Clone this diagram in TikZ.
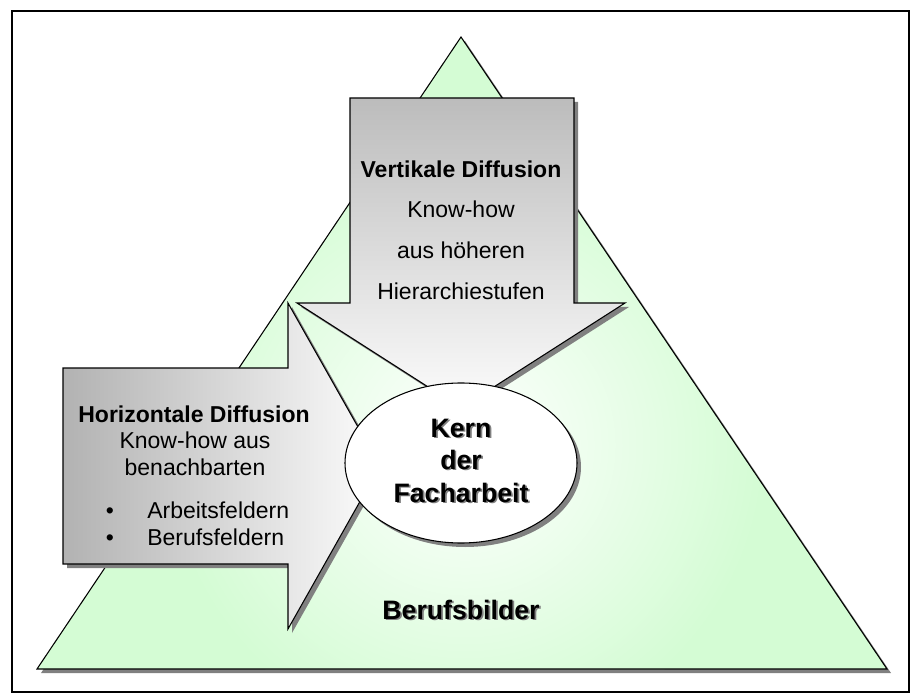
\documentclass[tikz,border=0pt]{standalone}
\usepackage{fontspec}
\setmainfont{Liberation Sans}
\usetikzlibrary{shapes.geometric,shadows}
\definecolor{trigreen}{RGB}{212,252,212}
\definecolor{shadowgray}{RGB}{128,128,128}
\definecolor{arrowdark}{RGB}{188,188,188}
\definecolor{arrowdarkb}{RGB}{178,178,178}
\definecolor{arrowlight}{RGB}{252,252,252}
\newcommand{\shtxt}[1]{\makebox[0pt][l]{\hspace{1.3pt}\raisebox{-1.3pt}{\textcolor{shadowgray}{#1}}}#1}

\begin{document}
\begin{tikzpicture}[x=0.75pt,y=-0.75pt,
  outline/.style={draw=black, line width=0.8pt, line join=miter},
  mysh/.style={drop shadow={shadow xshift=3pt, shadow yshift=-3pt, opacity=1, fill=shadowgray}},
  headtxt/.style={font=\fontsize{17.25}{20}\selectfont\bfseries, anchor=base, inner sep=0pt},
  bodytxt/.style={font=\fontsize{17.25}{20}\selectfont, anchor=base, inner sep=0pt},
  bigtxt/.style={font=\fontsize{20}{24}\selectfont\bfseries, anchor=base, inner sep=0pt}
]
\useasboundingbox (0,0) rectangle (914,695);
\draw[line width=1.5pt] (12,11) rectangle (909,692);

% triangle
\fill[trigreen, mysh] (461,37) -- (887,669) -- (37,669) -- cycle;
\begin{scope}
 \clip (461,37) -- (887,669) -- (37,669) -- cycle;
 \shade[inner color=white, outer color=trigreen] (465,445) circle (225pt);
\end{scope}
\draw[outline] (461,37) -- (887,669) -- (37,669) -- cycle;

% vertical arrow
\shadedraw[outline, mysh, top color=arrowdark, bottom color=arrowlight]
  (350,98) -- (574,98) -- (574,303) -- (625,303) -- (461,408) -- (297,303) -- (350,303) -- cycle;

% horizontal arrow
\shadedraw[outline, mysh, left color=arrowdarkb, right color=arrowlight]
  (63,368) -- (288,368) -- (288,303) -- (380,466) -- (288,629) -- (288,564) -- (63,564) -- cycle;

% core ellipse
\node[ellipse, draw, line width=0.8pt, fill=white, mysh, minimum width=174pt, minimum height=120pt, inner sep=0pt] (kern) at (461,463) {};

\node[headtxt] (vt1) at (461,178) {Vertikale Diffusion};
\node[bodytxt] (vt2) at (461,218) {Know-how};
\node[bodytxt] (vt3) at (461,259) {aus höheren};
\node[bodytxt] (vt4) at (461,300) {Hierarchiestufen};

\node[headtxt] (ht1) at (194,422) {Horizontale Diffusion};
\node[bodytxt] (ht2) at (195,448) {Know-how aus};
\node[bodytxt] (ht3) at (195,475) {benachbarten};
\node[bodytxt] (b1) at (110,518) {•};
\node[bodytxt, anchor=base west] (ht4) at (147,518) {Arbeitsfeldern};
\node[bodytxt] (b2) at (110,545) {•};
\node[bodytxt, anchor=base west] (ht5) at (147,545) {Berufsfeldern};

\node[bigtxt] (k1) at (461,437) {\shtxt{Kern}};
\node[bigtxt] (k2) at (461,469) {\shtxt{der}};
\node[bigtxt] (k3) at (461,502) {\shtxt{Facharbeit}};
\node[bigtxt] (bb) at (461,619) {\shtxt{Berufsbilder}};
\end{tikzpicture}
\end{document}
